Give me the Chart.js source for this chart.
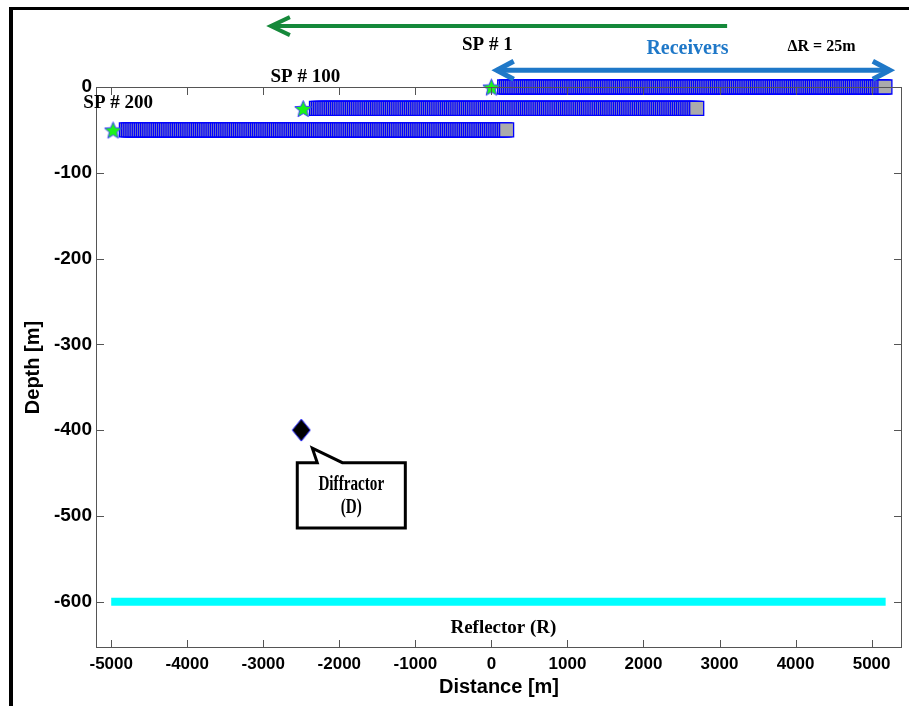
<!DOCTYPE html>
<html>
<head>
<meta charset="utf-8">
<script src="https://cdn.jsdelivr.net/npm/chart.js@4.4.0/dist/chart.umd.min.js"></script>
<style>
html, body { margin: 0; padding: 0; background: #fff; }
#wrap { position: relative; width: 909px; height: 706px; overflow: hidden; }
#frame { position: absolute; left: 9px; top: 7px; width: 920px; height: 720px;
  border-left: 4px solid #000; border-top: 3px solid #000; pointer-events: none; }
</style>
</head>
<body>
<div id="wrap"><canvas id="c" width="909" height="706"></canvas><div id="frame"></div></div>
<script>
// axes
const xTicks = [-5000, -4000, -3000, -2000, -1000, 0, 1000, 2000, 3000, 4000, 5000];
const yTicks = [0, -100, -200, -300, -400, -500, -600];

// shots (SP #1, #100, #200) and their receiver spreads
const shotNames = ['SP # 1', 'SP # 100', 'SP # 200'];
const shotX = [0, -2475, -4975];
const shotDepth = [0, -25, -50];
const receiverSpacing = 25;          // ΔR = 25m
const receiverOffsets = [175, 5175]; // first / last receiver offset from the shot

// diffractor point and reflector line
const diffractorX = [-2500];
const diffractorY = [-400];
const reflectorX = [-5000, 5185];
const reflectorY = [-600, -600];

// arrows above the plot (shooting direction, receiver spread)
const shotArrowX = [3100, -2900];
const shotArrowY = [71, 71];
const recvArrowX = [70, 5240];
const recvArrowY = [19.5, 19.5];

// text labels (data coords)
const labelText = ['SP # 1', 'SP # 100', 'SP # 200', 'Receivers', 'ΔR = 25m', 'Reflector (R)'];
const labelX = [-53, -2447, -4908, 2579, 4342, 158];
const labelY = [48.5, 11.5, -19, 45, 47, -631];

// callout for the diffractor
const calloutX = [-2553, -1132];
const calloutY = [-438, -514];
const pointerTip = [-2355, -421];
const pointerBaseX = [-2290, -1960];
const calloutLines = ['Diffractor', '(D)'];
const calloutLineY = [-464, -491];

const SERIF = '"Liberation Serif", "Times New Roman", serif';
const SANS = '"Liberation Sans", Arial, sans-serif';
const labelStyle = [
  {font: 'bold 19px ' + SERIF, color: '#000'},
  {font: 'bold 19px ' + SERIF, color: '#000'},
  {font: 'bold 19px ' + SERIF, color: '#000'},
  {font: 'bold 20px ' + SERIF, color: '#1f78c8'},
  {font: 'bold 16px ' + SERIF, color: '#000'},
  {font: 'bold 19px ' + SERIF, color: '#000'}
];

function receivers(i) {
  const pts = [];
  for (let off = receiverOffsets[0]; off <= receiverOffsets[1]; off += receiverSpacing) {
    pts.push({x: shotX[i] + off, y: shotDepth[i]});
  }
  return pts;
}

function starImg(r) {
  const s = Math.ceil(r * 2 + 3);
  const c = document.createElement('canvas');
  c.width = c.height = s;
  const g = c.getContext('2d');
  g.beginPath();
  for (let i = 0; i < 10; i++) {
    const rr = i % 2 ? r * 0.45 : r;
    const a = -Math.PI / 2 + i * Math.PI / 5;
    g.lineTo(s / 2 + rr * Math.cos(a), s / 2 + 1 + rr * Math.sin(a));
  }
  g.closePath();
  g.fillStyle = '#1cf21c';
  g.fill();
  g.strokeStyle = '#3b3bff';
  g.lineWidth = 1;
  g.stroke();
  return c;
}

function diamondImg(w, h) {
  const c = document.createElement('canvas');
  c.width = w + 2; c.height = h + 2;
  const g = c.getContext('2d');
  g.beginPath();
  g.moveTo(1 + w / 2, 1); g.lineTo(1 + w, 1 + h / 2); g.lineTo(1 + w / 2, 1 + h); g.lineTo(1, 1 + h / 2);
  g.closePath();
  g.fillStyle = '#000'; g.fill();
  g.strokeStyle = '#2020ff'; g.lineWidth = 1; g.stroke();
  return c;
}

function chevron(ctx, tipX, tipY, dir, len, half) {
  ctx.beginPath();
  ctx.moveTo(tipX - dir * len, tipY - half);
  ctx.lineTo(tipX, tipY);
  ctx.lineTo(tipX - dir * len, tipY + half);
  ctx.stroke();
}

const overlay = {
  id: 'overlay',
  afterDatasetsDraw(chart) {
    const {ctx, chartArea: a, scales: {x, y}} = chart;
    ctx.save();
    // arrow heads
    ctx.lineCap = 'butt'; ctx.lineJoin = 'miter';
    ctx.strokeStyle = '#15893a'; ctx.lineWidth = 4;
    chevron(ctx, x.getPixelForValue(shotArrowX[1]), y.getPixelForValue(shotArrowY[1]), -1, 19, 9);
    ctx.strokeStyle = '#1f78c8'; ctx.lineWidth = 5;
    chevron(ctx, x.getPixelForValue(recvArrowX[0]), y.getPixelForValue(recvArrowY[0]), -1, 17, 9);
    chevron(ctx, x.getPixelForValue(recvArrowX[1]), y.getPixelForValue(recvArrowY[1]), 1, 17, 9);

    // box with inward ticks
    ctx.strokeStyle = '#555'; ctx.lineWidth = 1;
    ctx.strokeRect(a.left + 0.5, a.top + 0.5, a.width - 1, a.height - 1);
    ctx.beginPath();
    x.ticks.forEach(t => {
      const px = Math.round(x.getPixelForValue(t.value)) + 0.5;
      ctx.moveTo(px, a.bottom); ctx.lineTo(px, a.bottom - 8);
      ctx.moveTo(px, a.top); ctx.lineTo(px, a.top + 8);
    });
    y.ticks.forEach(t => {
      const py = Math.round(y.getPixelForValue(t.value)) + 0.5;
      ctx.moveTo(a.left, py); ctx.lineTo(a.left + 8, py);
      ctx.moveTo(a.right, py); ctx.lineTo(a.right - 8, py);
    });
    ctx.stroke();

    // text labels
    ctx.textAlign = 'center'; ctx.textBaseline = 'middle';
    labelText.forEach((t, i) => {
      ctx.font = labelStyle[i].font;
      ctx.fillStyle = labelStyle[i].color;
      ctx.fillText(t, x.getPixelForValue(labelX[i]), y.getPixelForValue(labelY[i]));
    });

    // diffractor callout
    const l = x.getPixelForValue(calloutX[0]), r = x.getPixelForValue(calloutX[1]);
    const tp = y.getPixelForValue(calloutY[0]), bt = y.getPixelForValue(calloutY[1]);
    const b0 = x.getPixelForValue(pointerBaseX[0]), b1 = x.getPixelForValue(pointerBaseX[1]);
    const tx = x.getPixelForValue(pointerTip[0]), ty = y.getPixelForValue(pointerTip[1]);
    ctx.beginPath();
    ctx.moveTo(l, tp); ctx.lineTo(b0, tp); ctx.lineTo(tx, ty); ctx.lineTo(b1, tp);
    ctx.lineTo(r, tp); ctx.lineTo(r, bt); ctx.lineTo(l, bt); ctx.closePath();
    ctx.fillStyle = '#fff'; ctx.fill();
    ctx.strokeStyle = '#000'; ctx.lineWidth = 3; ctx.lineJoin = 'miter'; ctx.stroke();
    ctx.fillStyle = '#000';
    ctx.font = 'bold 20px ' + SERIF;
    const cx = (l + r) / 2;
    calloutLines.forEach((t, i) => {
      ctx.save();
      ctx.translate(cx, y.getPixelForValue(calloutLineY[i]));
      ctx.scale(0.76, 1);
      ctx.fillText(t, 0, 0);
      ctx.restore();
    });
    ctx.restore();
  }
};

const toPts = (xs, ys) => xs.map((v, i) => ({x: v, y: ys[i]}));
const star = starImg(9);

const datasets = [];
shotX.forEach((sx, i) => {
  datasets.push({
    label: shotNames[i], data: [{x: sx, y: shotDepth[i]}], pointStyle: star,
    pointRadius: 9, order: 0, clip: false
  });
});
shotX.forEach((sx, i) => {
  datasets.push({
    label: 'receivers ' + shotNames[i], data: receivers(i), pointStyle: 'rect',
    pointRadius: 9.9, backgroundColor: '#ababab', borderColor: '#0000ff', borderWidth: 1.3,
    order: 2, clip: false
  });
});
datasets.push({
  label: 'Diffractor', data: toPts(diffractorX, diffractorY), pointStyle: diamondImg(18, 22),
  pointRadius: 10, order: 1, clip: false
});
datasets.push({
  label: 'Reflector', data: toPts(reflectorX, reflectorY), showLine: true, pointRadius: 0,
  borderColor: '#00ffff', borderWidth: 8, borderCapStyle: 'butt', order: 3, clip: false
});
datasets.push({
  label: 'shot direction', data: toPts(shotArrowX, shotArrowY), showLine: true, pointRadius: 0,
  borderColor: '#15893a', borderWidth: 4, borderCapStyle: 'butt', order: 3, clip: false
});
datasets.push({
  label: 'receiver spread', data: toPts(recvArrowX, recvArrowY), showLine: true, pointRadius: 0,
  borderColor: '#1f78c8', borderWidth: 5, borderCapStyle: 'butt', order: 3, clip: false
});

new Chart(document.getElementById('c'), {
  type: 'scatter',
  data: {datasets},
  options: {
    responsive: false,
    animation: false,
    events: [],
    layout: {autoPadding: false, padding: {top: 87, right: 7, left: 0, bottom: 0}},
    plugins: {legend: {display: false}, tooltip: {enabled: false}},
    scales: {
      x: {
        type: 'linear', min: -5200, max: 5400,
        afterBuildTicks: s => { s.ticks = xTicks.map(v => ({value: v})); },
        afterFit: s => { s.height = 58; s.paddingLeft = 0; s.paddingRight = 0; },
        grid: {display: false, drawTicks: false}, border: {display: false},
        ticks: {color: '#000', padding: 6, maxRotation: 0, autoSkip: false,
          callback: v => String(v),
          font: {family: SANS, size: 17, weight: 'bold'}},
        title: {display: true, text: 'Distance [m]', color: '#000',
          font: {family: SANS, size: 20, weight: 'bold'}, padding: {top: 0, bottom: 7}}
      },
      y: {
        type: 'linear', min: -654, max: 0,
        afterBuildTicks: s => { s.ticks = yTicks.map(v => ({value: v})); },
        afterFit: s => { s.width = 96; s.paddingTop = 0; s.paddingBottom = 0; },
        grid: {display: false, drawTicks: false}, border: {display: false},
        ticks: {color: '#000', padding: 4, autoSkip: false,
          callback: v => String(v),
          font: {family: SANS, size: 19, weight: 'bold'}},
        title: {display: true, text: 'Depth [m]', color: '#000',
          font: {family: SANS, size: 20, weight: 'bold'}, padding: {top: 21, bottom: 0}}
      }
    }
  },
  plugins: [overlay]
});
</script>
</body>
</html>
